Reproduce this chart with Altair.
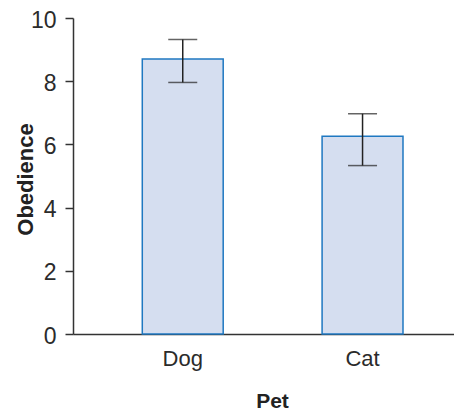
import altair as alt
import pandas as pd

pets = ["Dog", "Cat"]
means = [8.70, 6.26]
err_lo = [7.96, 5.33]
err_hi = [9.32, 6.97]

df = pd.DataFrame({"Pet": pets, "Obedience": means, "lo": err_lo, "hi": err_hi})

FONT = "Liberation Sans"

x = alt.X(
    "Pet:N",
    sort=pets,
    scale=alt.Scale(paddingInner=0.55, paddingOuter=0.3345, align=0.576),
    axis=alt.Axis(
        title="Pet", ticks=False, labelAngle=0, labelPadding=14,
        labelFontSize=22, labelFont=FONT, labelColor="#2b2b2b",
        titleFont=FONT, titleFontSize=21, titleFontWeight="bold", titleColor="#222222",
        titleX=199, titleY=73, titleBaseline="alphabetic", titleAlign="center",
        domainColor="#333333", domainWidth=1.5,
    ),
)

bars = alt.Chart(df).mark_bar(
    fill="#d5def0", stroke="#1f78c1", strokeWidth=1.5
).encode(
    x=x,
    y=alt.Y(
        "Obedience:Q",
        scale=alt.Scale(domain=[0, 10], nice=False),
        axis=alt.Axis(
            title="Obedience", values=[0, 2, 4, 6, 8, 10], tickSize=8, tickWidth=1.5,
            tickColor="#333333", labelPadding=9, labelFontSize=23, labelFont=FONT,
            labelColor="#2b2b2b", grid=False, labelOffset=2,
            titleFont=FONT, titleFontSize=22, titleFontWeight="bold", titleColor="#222222",
            titleX=-41, titleY=161, titleBaseline="alphabetic", titleAlign="center",
            titleAngle=270,
            domainColor="#333333", domainWidth=1.5,
        ),
    ),
)

rules = alt.Chart(df).mark_rule(color="#222222", strokeWidth=1.5).encode(
    x=x, y=alt.Y("lo:Q"), y2="hi:Q"
)
cap_lo = alt.Chart(df).mark_tick(color="#222222", thickness=1.5, size=29).encode(
    x=x, y=alt.Y("lo:Q")
)
cap_hi = alt.Chart(df).mark_tick(color="#222222", thickness=1.5, size=29).encode(
    x=x, y=alt.Y("hi:Q")
)

chart = alt.layer(bars, rules, cap_lo, cap_hi).properties(
    width=381, height=316,
    autosize=alt.AutoSizeParams(type="none"),
    padding={"left": 65, "top": 10, "right": 0, "bottom": 76},
).configure_view(stroke=None)

chart.save("out.html", embed_options={"renderer": "svg", "actions": False})
